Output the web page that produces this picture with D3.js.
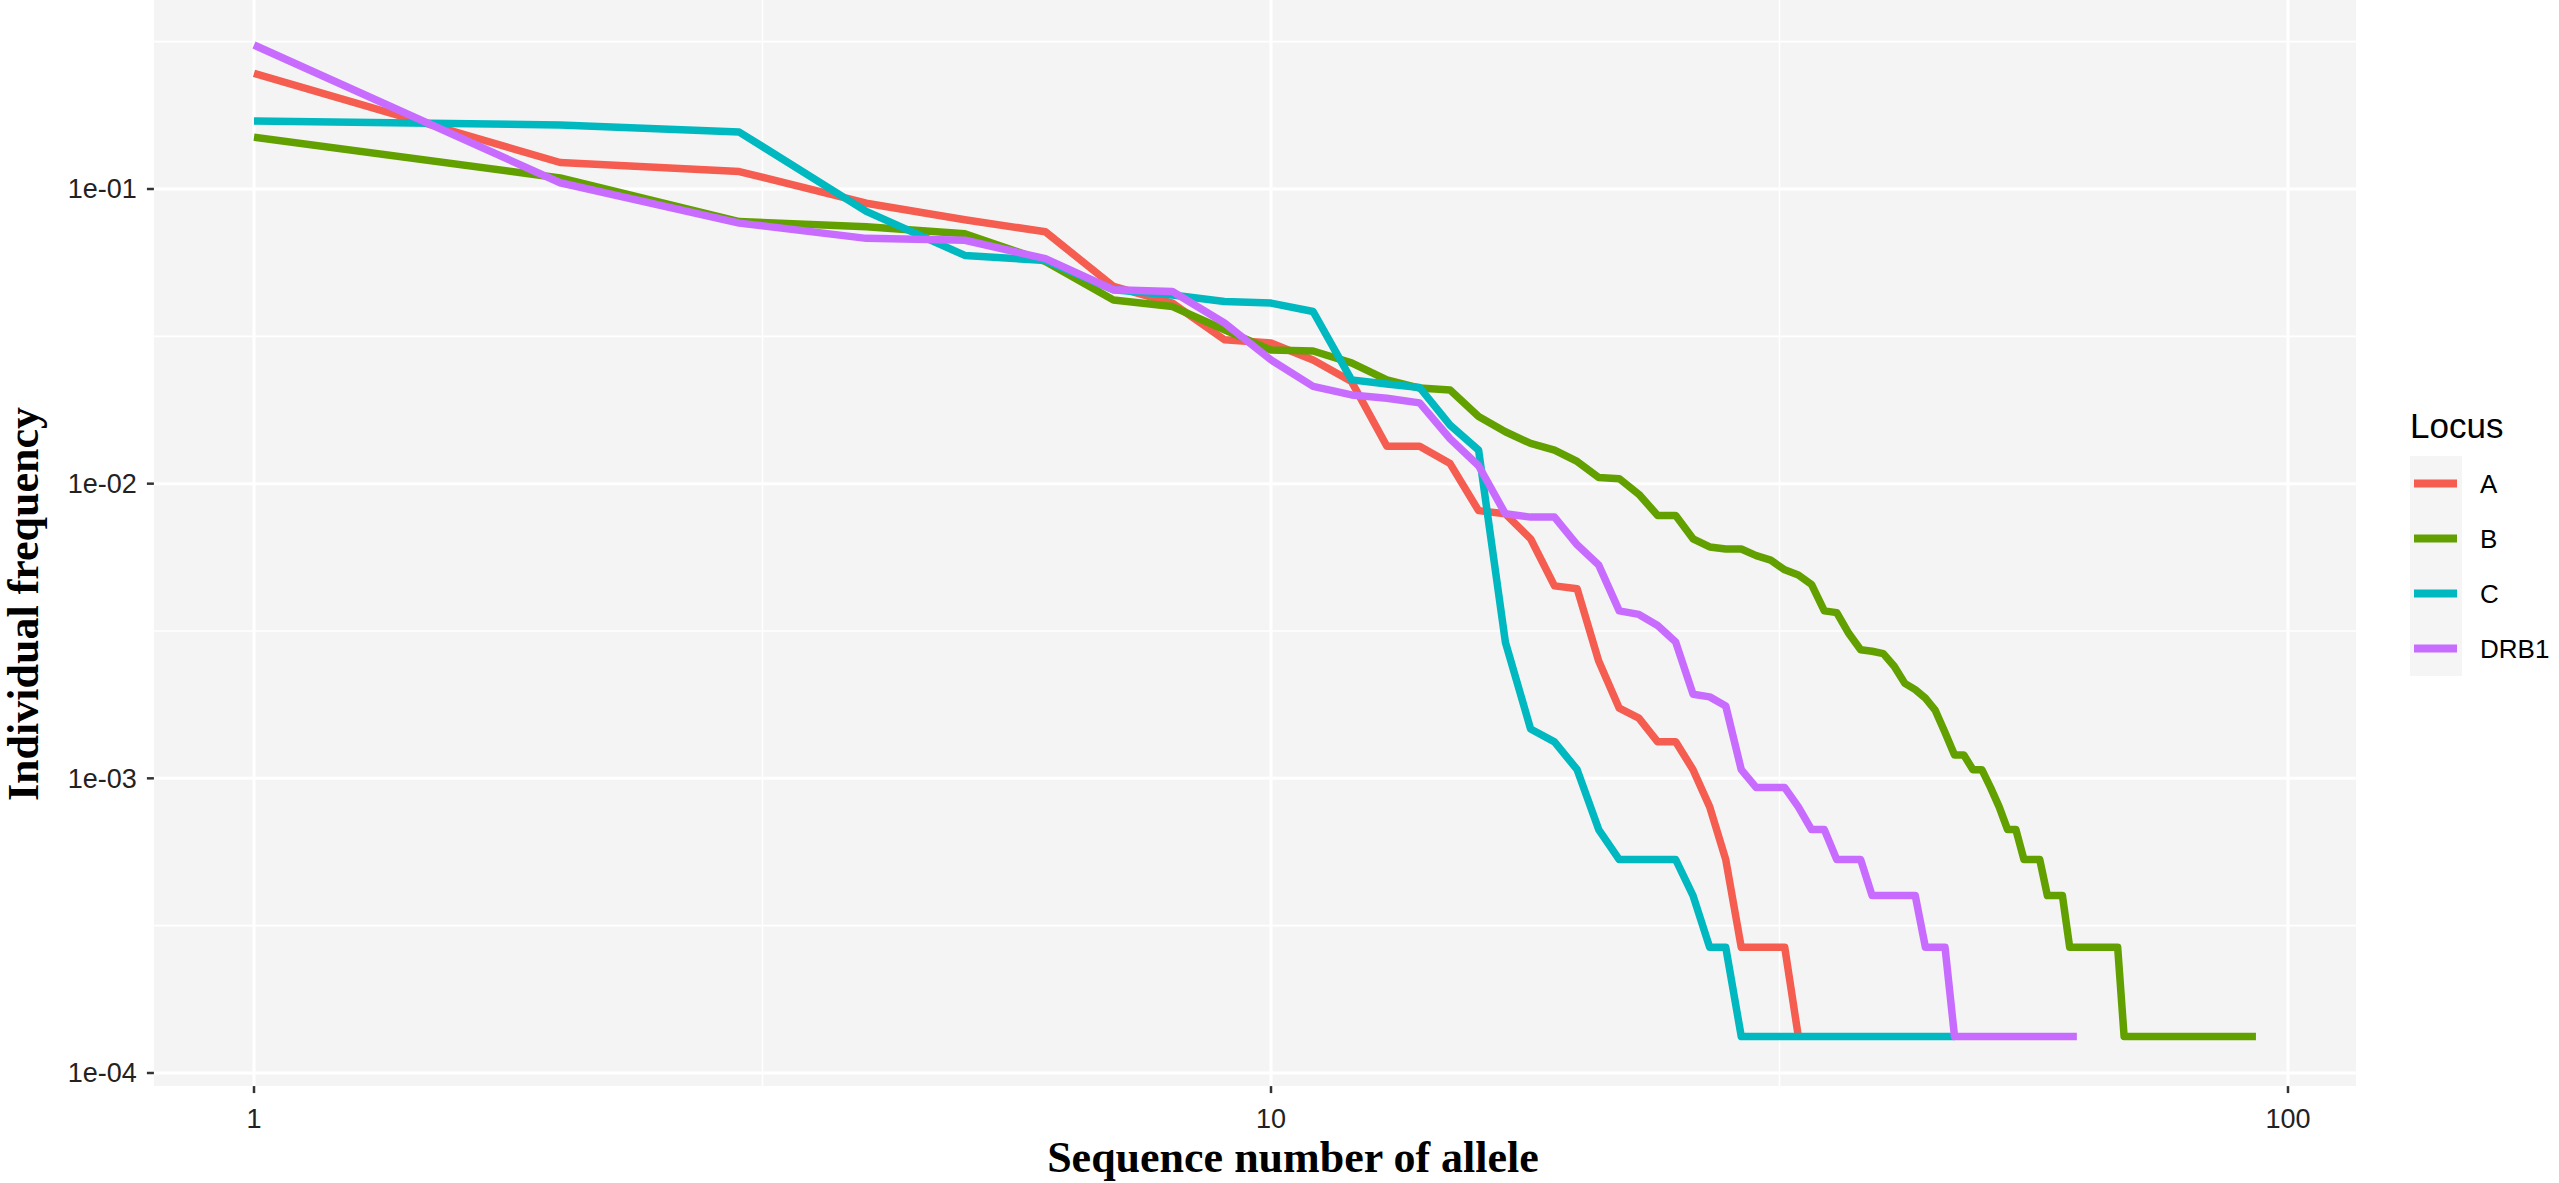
<!DOCTYPE html>
<html>
<head>
<meta charset="utf-8">
<script src="https://cdn.jsdelivr.net/npm/d3@7"></script>
<style>
  body { margin: 0; background: #ffffff; }
  svg { display: block; }
</style>
</head>
<body>
<svg id="chart"></svg>
<script>
// Individual frequency of each allele, ordered by rank (rank = index + 1)
const loci = ['A', 'B', 'C', 'DRB1'];

const freqA = [0.247, 0.123, 0.1146, 0.0895, 0.0786, 0.0716, 0.0467, 0.041, 0.0308, 0.030,
  0.0263, 0.0222, 0.0134, 0.0134, 0.0117, 0.0081, 0.0079, 0.0065, 0.0045, 0.0044,
  0.0025, 0.00173, 0.0016, 0.00133, 0.00133, 0.00107, 0.0008, 0.00053, 0.000267, 0.000267,
  0.000267, 0.000267, 0.000133];

const freqB = [0.150, 0.109, 0.0775, 0.0745, 0.0705, 0.0568, 0.042, 0.0399, 0.0333, 0.0284,
  0.0282, 0.0257, 0.0225, 0.0211, 0.0208, 0.0169, 0.0150, 0.0137, 0.0130, 0.0119,
  0.0105, 0.0104, 0.0092, 0.0078, 0.0078, 0.0065, 0.0061, 0.0060, 0.0060, 0.0057,
  0.0055, 0.0051, 0.0049, 0.00455, 0.0037, 0.00365, 0.0031, 0.00273, 0.0027, 0.00265,
  0.0024, 0.0021, 0.0020, 0.00187, 0.0017, 0.00143, 0.0012, 0.0012, 0.00107, 0.00107,
  0.00093, 0.0008, 0.00067, 0.00067, 0.00053, 0.00053, 0.00053, 0.0004, 0.0004, 0.0004,
  0.000267, 0.000267, 0.000267, 0.000267, 0.000267, 0.000267, 0.000267, 0.000267,
  0.000133, 0.000133, 0.000133, 0.000133, 0.000133, 0.000133, 0.000133, 0.000133,
  0.000133, 0.000133, 0.000133, 0.000133, 0.000133, 0.000133, 0.000133, 0.000133,
  0.000133, 0.000133, 0.000133, 0.000133, 0.000133, 0.000133, 0.000133, 0.000133, 0.000133];

const freqC = [0.170, 0.165, 0.156, 0.084, 0.0595, 0.0572, 0.0455, 0.0437, 0.0415, 0.041,
  0.0384, 0.0225, 0.0218, 0.0212, 0.0158, 0.013, 0.0029, 0.00147, 0.00133, 0.00107,
  0.00067, 0.00053, 0.00053, 0.00053, 0.00053, 0.0004, 0.000267, 0.000267,
  0.000133, 0.000133, 0.000133, 0.000133, 0.000133, 0.000133, 0.000133, 0.000133,
  0.000133, 0.000133, 0.000133, 0.000133, 0.000133, 0.000133, 0.000133, 0.000133,
  0.000133, 0.000133, 0.000133];

const freqDRB1 = [0.308, 0.105, 0.0766, 0.068, 0.067, 0.058, 0.0455, 0.0449, 0.0351, 0.0263,
  0.0214, 0.020, 0.0195, 0.0188, 0.0142, 0.0115, 0.0079, 0.0077, 0.0077, 0.0062,
  0.0053, 0.0037, 0.0036, 0.0033, 0.0029, 0.00193, 0.00189, 0.00176, 0.00107, 0.00093,
  0.00093, 0.00093, 0.0008, 0.00067, 0.00067, 0.00053, 0.00053, 0.00053, 0.0004, 0.0004,
  0.0004, 0.0004, 0.0004, 0.000267, 0.000267, 0.000267,
  0.000133, 0.000133, 0.000133, 0.000133, 0.000133, 0.000133, 0.000133, 0.000133,
  0.000133, 0.000133, 0.000133, 0.000133, 0.000133, 0.000133, 0.000133, 0.000133];

const xTicks = [1, 10, 100];
const xTickLabels = ['1', '10', '100'];
const yTicks = [1e-1, 1e-2, 1e-3, 1e-4];
const yTickLabels = ['1e-01', '1e-02', '1e-03', '1e-04'];
const colors = ['#F45D50', '#62A000', '#00B8C0', '#C86CFF'];

const width = 2559, height = 1183;
const svg = d3.select('#chart').attr('width', width).attr('height', height);
svg.append('rect').attr('width', width).attr('height', height).attr('fill', '#ffffff');

const series = [freqA, freqB, freqC, freqDRB1].map((vals, i) => ({
  name: loci[i],
  color: colors[i],
  points: vals.map((v, j) => ({ rank: j + 1, freq: v }))
}));

const x = d3.scaleLog().domain([1, 100]).range([254, 2288]);
const y = d3.scaleLog().domain([1e-1, 1e-4]).range([189, 1073]);

// ggplot-style 5% expansion in log space
const allPts = series.flatMap(s => s.points);
const lx = d3.extent(allPts, d => Math.log10(d.rank));
const ly = d3.extent(allPts, d => Math.log10(d.freq));
const px = (lx[1] - lx[0]) * 0.05, py = (ly[1] - ly[0]) * 0.05;
const panel = {
  x0: x(Math.pow(10, lx[0] - px)), x1: x(Math.pow(10, lx[1] + px)),
  y0: y(Math.pow(10, ly[1] + py)), y1: y(Math.pow(10, ly[0] - py))
};

const gPanel = svg.append('g');
gPanel.append('rect')
  .attr('x', panel.x0).attr('y', panel.y0)
  .attr('width', panel.x1 - panel.x0).attr('height', panel.y1 - panel.y0)
  .attr('fill', '#F4F4F4');

// minor grid (half decades)
const xMinor = [Math.pow(10, 0.5), Math.pow(10, 1.5)];
const yMinor = [-0.5, -1.5, -2.5, -3.5].map(e => Math.pow(10, e));
gPanel.selectAll('.xminor').data(xMinor).enter().append('line')
  .attr('x1', d => x(d)).attr('x2', d => x(d))
  .attr('y1', panel.y0).attr('y2', panel.y1)
  .attr('stroke', '#ffffff').attr('stroke-width', 1.6);
gPanel.selectAll('.yminor').data(yMinor).enter().append('line')
  .attr('x1', panel.x0).attr('x2', panel.x1)
  .attr('y1', d => y(d)).attr('y2', d => y(d))
  .attr('stroke', '#ffffff').attr('stroke-width', 1.6);

// major grid
gPanel.selectAll('.xmajor').data(xTicks).enter().append('line')
  .attr('x1', d => x(d)).attr('x2', d => x(d))
  .attr('y1', panel.y0).attr('y2', panel.y1)
  .attr('stroke', '#ffffff').attr('stroke-width', 3);
gPanel.selectAll('.ymajor').data(yTicks).enter().append('line')
  .attr('x1', panel.x0).attr('x2', panel.x1)
  .attr('y1', d => y(d)).attr('y2', d => y(d))
  .attr('stroke', '#ffffff').attr('stroke-width', 3);

// lines
const line = d3.line()
  .x(d => x(d.rank))
  .y(d => y(d.freq));

svg.append('g').selectAll('path').data(series).enter().append('path')
  .attr('d', d => line(d.points))
  .attr('fill', 'none')
  .attr('stroke', d => d.color)
  .attr('stroke-width', 7.5)
  .attr('stroke-linejoin', 'round')
  .attr('stroke-linecap', 'butt');

// axes
const gAxes = svg.append('g').attr('font-family', '"Liberation Sans", Arial, sans-serif');
gAxes.selectAll('.ytick').data(yTicks).enter().append('line')
  .attr('x1', panel.x0 - 7).attr('x2', panel.x0)
  .attr('y1', d => y(d)).attr('y2', d => y(d))
  .attr('stroke', '#333333').attr('stroke-width', 2.5);
gAxes.selectAll('.ylab').data(yTicks).enter().append('text')
  .attr('x', panel.x0 - 17).attr('y', d => y(d))
  .attr('dy', '0.35em')
  .attr('text-anchor', 'end')
  .attr('font-size', 27)
  .attr('fill', '#222222')
  .text((d, i) => yTickLabels[i]);

gAxes.selectAll('.xtick').data(xTicks).enter().append('line')
  .attr('x1', d => x(d)).attr('x2', d => x(d))
  .attr('y1', panel.y1).attr('y2', panel.y1 + 7)
  .attr('stroke', '#333333').attr('stroke-width', 2.5);
gAxes.selectAll('.xlab').data(xTicks).enter().append('text')
  .attr('x', d => x(d)).attr('y', panel.y1 + 32)
  .attr('dy', '0.35em')
  .attr('text-anchor', 'middle')
  .attr('font-size', 27)
  .attr('fill', '#222222')
  .text((d, i) => xTickLabels[i]);

// axis titles (serif, bold)
svg.append('text')
  .attr('x', 1293).attr('y', 1172)
  .attr('text-anchor', 'middle')
  .attr('font-family', '"Liberation Serif", "Times New Roman", serif')
  .attr('font-weight', 'bold')
  .attr('font-size', 44)
  .attr('fill', '#000000')
  .text('Sequence number of allele');

svg.append('text')
  .attr('transform', 'translate(38,604) rotate(-90)')
  .attr('text-anchor', 'middle')
  .attr('font-family', '"Liberation Serif", "Times New Roman", serif')
  .attr('font-weight', 'bold')
  .attr('font-size', 44)
  .attr('fill', '#000000')
  .text('Individual frequency');

// legend
const gLegend = svg.append('g')
  .attr('transform', 'translate(2410,0)')
  .attr('font-family', '"Liberation Sans", Arial, sans-serif');
gLegend.append('text')
  .attr('x', 0).attr('y', 438)
  .attr('font-size', 35)
  .attr('fill', '#000000')
  .text('Locus');

const keyH = 55, keyTop = 456;
const keys = gLegend.selectAll('.key').data(series).enter().append('g')
  .attr('transform', (d, i) => `translate(0,${keyTop + i * keyH})`);
keys.append('rect')
  .attr('width', 52).attr('height', keyH)
  .attr('fill', '#F5F5F5');
keys.append('line')
  .attr('x1', 4).attr('x2', 47)
  .attr('y1', keyH / 2).attr('y2', keyH / 2)
  .attr('stroke', d => d.color)
  .attr('stroke-width', 8);
keys.append('text')
  .attr('x', 70).attr('y', keyH / 2)
  .attr('dy', '0.35em')
  .attr('font-size', 26)
  .attr('fill', '#000000')
  .text(d => d.name);
</script>
</body>
</html>
